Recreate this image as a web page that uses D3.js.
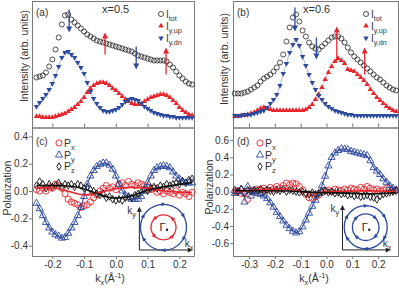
<!DOCTYPE html>
<html>
<head>
<meta charset="utf-8">
<script src="https://cdn.jsdelivr.net/npm/d3@7"></script>
<style>
  body { margin: 0; background: #fff; }
  svg { display: block; font-family: Arial, "Liberation Sans", sans-serif; }
</style>
</head>
<body>
<svg id="chart" width="399" height="288"></svg>
<script>
// ---- data ----
// momentum grids, kx in 1/Angstrom
const kA = d3.range(-0.25, 0.245, 0.01)      // panels (a),(c)
const kB = d3.range(-0.355, 0.2705, 0.0125)  // panels (b),(d)

// (a) x=0.5 intensities, arb. units
const iTotA = [50,51,52,55,61,68,78,90,103,112,113,108,105,102,99,96,93,91,89,87,86,85,84,83,82,81,80,79,78,77,76,74,72,71,70,69,68,67,67,67,67,66,63,60,56,52,49,46,44,43]
const iUpA  = [11,11,10,10,10,10,11,12,13,14,16,18,20,23,26,30,35,39,42,44,45,45,44,42,39,37,34,31,28,26,24,23,23,24,26,28,30,31,32,33,33,32,30,27,24,20,17,15,13,12]
const iDnA  = [21,25,29,33,38,44,52,61,70,75,76,73,70,65,60,54,45,36,29,24,20,17,16,16,17,18,20,23,26,28,29,28,27,24,21,19,17,15,14,13,12,12,11,11,10,10,10,10,10,10]

// (b) x=0.6 intensities
const iTotB = [34,34,34,35,36,38,40,42,46,49,51,53,56,60,65,73,86,100,110,113,106,97,91,85,81,79,78,81,84,87,90,91,91,89,85,80,75,71,68,65,62,59,56,53,50,48,45,42,40,38,37]
const iUpB  = [11,11,12,12,13,14,15,17,19,20,19,18,17,17,17,17,17,17,17,17,17,17,18,20,23,28,33,40,48,55,61,66,69,67,64,58,57,56,53,50,47,43,38,34,30,27,24,21,19,17,16]
const iDnB  = [12,12,12,13,13,13,14,15,16,17,20,24,28,33,42,54,64,75,83,88,82,71,62,53,45,38,32,28,24,21,19,17,16,15,14,13,13,12,12,12,12,12,12,12,12,12,12,12,12,12,12]

// (c) polarization x=0.5
const pxC = [0.01,0.0,0.02,0.0,0.03,0.02,0.05,0.04,0.02,-0.02,-0.06,-0.08,-0.09,-0.10,-0.12,-0.11,-0.10,-0.08,-0.05,-0.03,0.0,0.02,0.04,0.02,0.03,0.01,0.05,0.06,0.04,0.07,0.05,0.04,0.06,0.05,0.04,0.03,0.01,0.02,-0.01,0.0,-0.02,0.0,-0.01,-0.02,0.0,-0.03,-0.01,-0.02,-0.04,-0.01]
const pyC = [-0.09,-0.13,-0.18,-0.23,-0.27,-0.30,-0.32,-0.33,-0.345,-0.34,-0.31,-0.27,-0.23,-0.18,-0.12,-0.04,0.05,0.11,0.15,0.18,0.195,0.205,0.205,0.19,0.16,0.11,0.05,0.0,-0.03,-0.05,-0.06,-0.06,-0.06,-0.04,0.0,0.06,0.11,0.15,0.17,0.18,0.185,0.18,0.17,0.14,0.11,0.09,0.07,0.06,0.06,0.06]
const pzC = [0.04,0.07,0.05,0.02,0.05,0.03,0.04,0.06,0.03,0.05,0.04,0.05,0.03,0.05,0.04,0.02,0.03,0.01,0.0,-0.02,-0.03,-0.02,-0.05,-0.04,-0.06,-0.07,-0.06,-0.07,-0.05,-0.04,-0.05,-0.03,-0.02,-0.01,0.01,0.0,0.02,0.03,0.02,0.04,0.03,0.05,0.04,0.05,0.06,0.05,0.07,0.06,0.08,0.09]
const fitKC  = [-0.25,-0.2,-0.15,-0.1,-0.05,0,0.05,0.1,0.15,0.2,0.24]
const fitPxC = [0.02,0.03,0.0,-0.04,-0.01,0.02,0.03,0.02,0.0,-0.01,-0.01]
const fitPzC = [0.04,0.04,0.04,0.02,-0.03,-0.06,-0.04,0.01,0.03,0.05,0.06]

// (d) polarization x=0.6
const pxD = [0.0,0.01,-0.02,-0.02,-0.09,0.02,0.0,0.03,0.02,0.04,0.02,0.05,0.03,0.06,0.04,0.07,0.10,0.08,0.10,0.09,0.06,0.02,-0.03,-0.07,-0.08,-0.06,-0.04,-0.01,0.01,0.02,0.0,0.03,0.02,0.01,0.03,0.02,0.04,0.03,0.02,0.05,0.03,0.06,0.04,0.02,0.03,0.01,0.02,0.04,0.02,0.01,0.02]
const pyD = [-0.02,0.0,0.03,-0.12,0.06,-0.05,0.0,-0.02,-0.03,-0.05,-0.08,-0.13,-0.18,-0.24,-0.29,-0.34,-0.39,-0.43,-0.46,-0.48,-0.465,-0.41,-0.33,-0.25,-0.17,-0.10,-0.02,0.07,0.18,0.30,0.40,0.45,0.48,0.50,0.495,0.49,0.47,0.46,0.45,0.44,0.43,0.42,0.36,0.28,0.24,0.20,0.15,0.11,0.07,0.04,0.02]
const pzD = [0.02,0.0,0.03,-0.01,0.02,0.0,0.02,0.01,0.03,0.0,0.02,0.01,0.0,0.02,0.01,0.03,0.0,0.02,0.01,0.0,-0.01,0.0,-0.02,-0.03,-0.01,-0.03,-0.02,0.0,0.01,-0.01,0.0,-0.02,-0.01,-0.03,-0.02,-0.04,-0.03,-0.05,-0.04,-0.06,-0.05,-0.04,-0.06,-0.07,-0.09,-0.05,-0.03,-0.02,-0.01,0.0,0.01]
const fitKD  = [-0.355,-0.3,-0.2,-0.15,-0.1,-0.05,0,0.1,0.2,0.27]
const fitPxD = [0.0,0.01,0.03,0.04,0.0,-0.02,0.0,0.01,0.01,0.0]
const fitPzD = [0.01,0.01,0.01,0.01,0.0,-0.01,-0.01,-0.02,-0.03,-0.01]

// arrows marking band positions: [k, from, to]
const arrowsDnA = [[-0.147,118,95],[0.064,81,58]]
const arrowsUpA = [[-0.034,73,95],[0.158,53,80]]
const arrowsDnB = [[-0.122,120,96],[-0.039,90,68]]
const arrowsUpB = [[0.04,66,101],[0.148,53,80]]

const xTicksC = [-0.2,-0.1,0.0,0.1,0.2]
const yTicksC = [-0.4,-0.2,0.0,0.2,0.4]
const xTicksD = [-0.3,-0.2,-0.1,0.0,0.1,0.2]
const yTicksD = [-0.6,-0.4,-0.2,0.0,0.2,0.4,0.6]

// ---- setup ----
const svg = d3.select('#chart')
const red = '#e8262d'
const blue = '#2c4a9e'
const frameCol = '#7a7a7a'
const textCol = '#333'

const yTop = 1, yMid = 127.5, yBot = 256
const leftL = 32, rightL = 194, leftR = 233, rightR = 398

const xL = d3.scaleLinear().domain([-0.264, 0.246]).range([leftL, rightL])
const xR = d3.scaleLinear().domain([-0.362, 0.277]).range([leftR, rightR])
const yI = d3.scaleLinear().domain([0, 126.5]).range([yMid, yTop])
const yC = d3.scaleLinear().domain([-0.476, 0.465]).range([yBot, yMid])
const yD = d3.scaleLinear().domain([-0.749, 0.747]).range([yBot, yMid])

const fmt = d => d.toFixed(1)

function frame(x0, y0, x1, y1) {
  svg.append('rect')
    .attr('x', x0 + 0.5).attr('y', y0 + 0.5)
    .attr('width', x1 - x0).attr('height', y1 - y0)
    .attr('fill', 'none').attr('stroke', frameCol).attr('stroke-width', 1)
}

function styleAxis(g) {
  g.select('.domain').remove()
  g.selectAll('line').attr('stroke', frameCol)
  g.selectAll('text').attr('fill', textCol).attr('font-size', 10)
}

function symbolPath(type, size) {
  return d3.symbol().type(type).size(size)()
}

function markers(ks, vals, x, y, opts) {
  const pts = d3.zip(ks, vals)
  const path = symbolPath(opts.type, opts.size)
  svg.append('g').selectAll('path')
    .data(pts).enter().append('path')
    .attr('d', path)
    .attr('transform', d => `translate(${x(d[0])},${y(d[1])})` + (opts.flip ? ' rotate(180)' : ''))
    .attr('fill', opts.fill || 'none')
    .attr('stroke', opts.stroke || 'none')
    .attr('stroke-width', opts.sw || 0.8)
}

function curve(ks, vals, x, y, color, width, op, c) {
  const line = d3.line()
    .x(d => x(d[0]))
    .y(d => y(d[1]))
    .curve(c || d3.curveMonotoneX)
  svg.append('path')
    .attr('d', line(d3.zip(ks, vals)))
    .attr('fill', 'none')
    .attr('stroke', color)
    .attr('stroke-width', width)
    .attr('opacity', op)
}

function arrow(xp, y0, y1, color) {
  const dir = y1 > y0 ? 1 : -1
  svg.append('line')
    .attr('x1', xp).attr('x2', xp)
    .attr('y1', y0).attr('y2', y1 - dir * 5)
    .attr('stroke', color).attr('stroke-width', 1.3)
  svg.append('path')
    .attr('d', `M${xp - 3},${y1 - dir * 6} L${xp + 3},${y1 - dir * 6} L${xp},${y1} Z`)
    .attr('fill', color)
}

function subText(x, y, main, sub, size, anchor) {
  const t = svg.append('text')
    .attr('x', x).attr('y', y)
    .attr('font-size', size).attr('fill', textCol)
    .attr('text-anchor', anchor || 'start')
  t.append('tspan').text(main)
  t.append('tspan').attr('dy', size * 0.3).attr('font-size', size * 0.72).text(sub)
  return t
}

// ---- intensity panels ----
function intensityPanel(x, ks, tot, up, dn, dnArrows, upArrows, label, title, legX, ticks) {
  const x0 = x.range()[0], x1 = x.range()[1]
  frame(x0, yTop, x1, yMid)

  const ax = svg.append('g')
    .attr('transform', `translate(0,${yMid})`)
    .call(d3.axisBottom(x).tickValues(ticks).tickSize(-4).tickFormat(''))
  styleAxis(ax)

  curve(ks, up, x, yI, red, 0.8, 0.5)
  curve(ks, dn, x, yI, blue, 0.8, 0.5)
  markers(ks, tot, x, yI, { type: d3.symbolCircle, size: 20, stroke: '#222', sw: 0.8 })
  markers(ks, up, x, yI, { type: d3.symbolTriangle, size: 13, fill: red })
  markers(ks, dn, x, yI, { type: d3.symbolTriangle, size: 13, fill: blue, flip: true })

  dnArrows.forEach(a => arrow(x(a[0]), yI(a[1]), yI(a[2]), blue))
  upArrows.forEach(a => arrow(x(a[0]), yI(a[1]), yI(a[2]), red))

  svg.append('text').attr('x', x0 + 4).attr('y', 16)
    .attr('font-size', 10).attr('fill', textCol).text(label)
  svg.append('text').attr('x', x0 + 70).attr('y', 13)
    .attr('font-size', 11).attr('fill', textCol).text(title)

  // legend
  const lg = [
    { sym: d3.symbolCircle, size: 20, fill: 'none', stroke: '#222', main: 'I', sub: 'tot', y: 14 },
    { sym: d3.symbolTriangle, size: 13, fill: red, main: 'I', sub: 'y,up', y: 26 },
    { sym: d3.symbolTriangle, size: 13, fill: blue, main: 'I', sub: 'y,dn', y: 38, flip: true }
  ]
  lg.forEach(l => {
    svg.append('path')
      .attr('d', symbolPath(l.sym, l.size))
      .attr('transform', `translate(${legX},${l.y})` + (l.flip ? ' rotate(180)' : ''))
      .attr('fill', l.fill).attr('stroke', l.stroke || 'none').attr('stroke-width', 0.8)
    subText(legX + 5, l.y + 3.5, l.main, l.sub, 10)
  })
}

intensityPanel(xL, kA, iTotA, iUpA, iDnA, arrowsDnA, arrowsUpA, '(a)', 'x=0.5', 161, xTicksC)
intensityPanel(xR, kB, iTotB, iUpB, iDnB, arrowsDnB, arrowsUpB, '(b)', 'x=0.6', 366, xTicksD)

// ---- polarization panels ----
function polPanel(x, y, ks, px, py, pz, fk, fpx, fpz, xt, yt, label, inset, twoRed) {
  const x0 = x.range()[0], x1 = x.range()[1]
  frame(x0, yMid, x1, yBot)

  const ax = svg.append('g').attr('transform', `translate(0,${yBot})`)
    .call(d3.axisBottom(x).tickValues(xt).tickSize(3).tickPadding(2).tickFormat(fmt))
  styleAxis(ax)
  const ay = svg.append('g').attr('transform', `translate(${x0},0)`)
    .call(d3.axisLeft(y).tickValues(yt).tickSize(3).tickPadding(1).tickFormat(fmt))
  styleAxis(ay)

  markers(ks, px, x, y, { type: d3.symbolCircle, size: 30, stroke: red, sw: 0.9 })
  markers(ks, py, x, y, { type: d3.symbolTriangle, size: 22, stroke: blue, sw: 0.9 })
  markers(ks, pz, x, y, { type: d3.symbolDiamond, size: 16, stroke: '#111', sw: 0.9 })

  curve(ks, py, x, y, blue, 1.1, 1, d3.curveBasis)
  curve(fk, fpx, x, y, red, 1.6, 1, d3.curveBasis)
  curve(fk, fpz, x, y, '#111', 1.6, 1, d3.curveBasis)

  svg.append('text').attr('x', x0 + 4).attr('y', 145)
    .attr('font-size', 10).attr('fill', textCol).text(label)

  const lx = x0 + 27
  const lg = [
    { sym: d3.symbolCircle, size: 30, stroke: red, sub: 'x', y: 143 },
    { sym: d3.symbolTriangle, size: 22, stroke: blue, sub: 'y', y: 155 },
    { sym: d3.symbolDiamond, size: 16, stroke: '#111', sub: 'z', y: 166.5 }
  ]
  lg.forEach(l => {
    svg.append('path').attr('d', symbolPath(l.sym, l.size))
      .attr('transform', `translate(${lx},${l.y})`)
      .attr('fill', 'none').attr('stroke', l.stroke).attr('stroke-width', 0.9)
    subText(lx + 5, l.y + 3.5, 'P', l.sub, 10.5)
  })

  // inset: constant energy contours with spin arrows
  const ox = x(inset.ox), oy = y(inset.oy)
  const cx = x(inset.cx), cy = y(inset.cy)
  const g = svg.append('g')
  g.append('line').attr('x1', ox).attr('y1', oy).attr('x2', x(inset.ex) - 4).attr('y2', oy)
    .attr('stroke', '#222').attr('stroke-width', 1)
  g.append('line').attr('x1', ox).attr('y1', oy).attr('x2', ox).attr('y2', y(inset.ey) + 4)
    .attr('stroke', '#222').attr('stroke-width', 1)
  g.append('path').attr('d', `M${x(inset.ex)},${oy} l-5,-2.5 l0,5 Z`).attr('fill', '#222')
  g.append('path').attr('d', `M${ox},${y(inset.ey)} l-2.5,5 l5,0 Z`).attr('fill', '#222')

  const rings = [
    { r: inset.r1, col: blue, sense: 1, n: 6 },
    { r: inset.r2, col: twoRed ? red : blue, sense: twoRed ? -1 : 1, n: 4 }
  ]
  rings.forEach(rg => {
    g.append('circle').attr('cx', cx).attr('cy', cy).attr('r', rg.r)
      .attr('fill', 'none').attr('stroke', rg.col).attr('stroke-width', 1.3)
    d3.range(rg.n).forEach(i => {
      const a = (i + 0.5) * 2 * Math.PI / rg.n
      const px0 = cx + rg.r * Math.cos(a), py0 = cy - rg.r * Math.sin(a)
      const deg = -(a * 180 / Math.PI) - 90 * rg.sense
      g.append('path').attr('d', 'M2.5,0 L-2,-2 L-2,2 Z')
        .attr('transform', `translate(${px0},${py0}) rotate(${deg + 180})`)
        .attr('fill', rg.col)
    })
  })
  g.append('text').attr('x', cx - 1).attr('y', cy + 4).attr('text-anchor', 'middle')
    .attr('font-size', 11).attr('fill', '#222').text('Γ')
  g.append('circle').attr('cx', cx + 3.5).attr('cy', cy + 2.5).attr('r', 1.2).attr('fill', '#222')

  subText(ox - 12, y(inset.ey) + 7, 'k', 'y', 10)
  subText(x(inset.ex) - 8, oy - 3, 'k', 'x', 10)
}

polPanel(xL, yC, kA, pxC, pyC, pzC, fitKC, fitPxC, fitPzC, xTicksC, yTicksC, '(c)',
  { ox: 0.074, oy: -0.432, ex: 0.242, ey: -0.115, cx: 0.15, cy: -0.266, r1: 23, r2: 12.5 }, true)
polPanel(xR, yD, kB, pxD, pyD, pzD, fitKD, fitPxD, fitPzD, xTicksD, yTicksD, '(d)',
  { ox: 0.062, oy: -0.678, ex: 0.249, ey: -0.155, cx: 0.152, cy: -0.414, r1: 21.5, r2: 13.3 }, false)

// ---- axis titles ----
function yTitle(xp, yp, txt) {
  svg.append('text')
    .attr('transform', `translate(${xp},${yp}) rotate(-90)`)
    .attr('text-anchor', 'middle').attr('font-size', 10.5).attr('fill', textCol)
    .text(txt)
}
yTitle(28, 56, 'Intensity (arb. units)')
yTitle(228, 59, 'Intensity (arb. units)')
yTitle(11, 188, 'Polarization')
yTitle(213, 187, 'Polarization')

function xTitle(xp) {
  const t = svg.append('text').attr('x', xp).attr('y', 282)
    .attr('text-anchor', 'middle').attr('font-size', 10.5).attr('fill', textCol)
  t.append('tspan').text('k')
  t.append('tspan').attr('dy', 3).attr('font-size', 7.5).text('x')
  t.append('tspan').attr('dy', -3).text('(Å')
  t.append('tspan').attr('dy', -4).attr('font-size', 7.5).text('-1')
  t.append('tspan').attr('dy', 4).text(')')
}
xTitle(110)
xTitle(314)
</script>
</body>
</html>
